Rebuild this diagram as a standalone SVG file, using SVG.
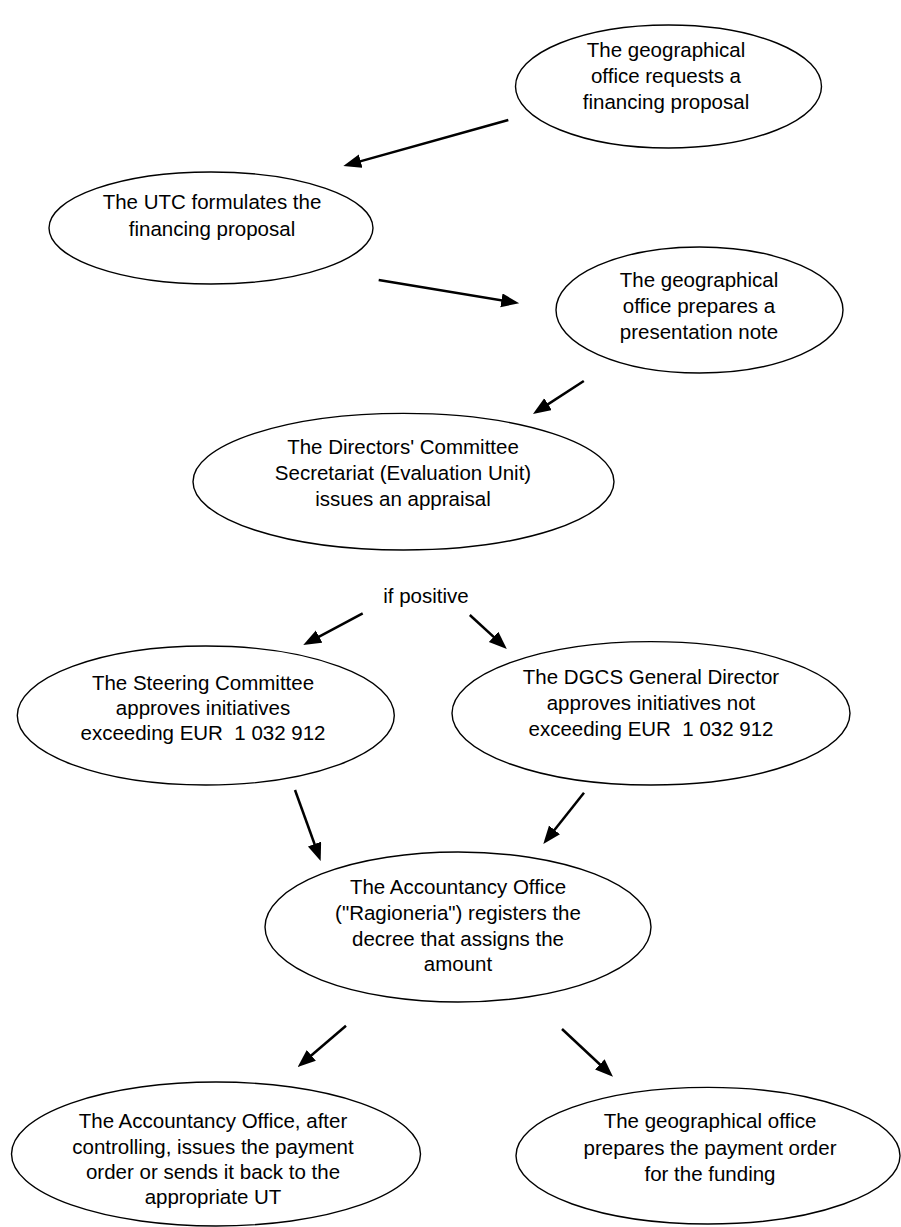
<svg xmlns="http://www.w3.org/2000/svg" width="901" height="1227" viewBox="0 0 901 1227">
<style>
  .node ellipse { fill: #ffffff; stroke: #000000; stroke-width: 1.4; }
  text { font-family: "Liberation Sans", Arial, sans-serif; font-size: 20.5px; fill: #000000; text-anchor: middle; white-space: pre; }
  .conn line { stroke: #000000; stroke-width: 2.5; fill: none; marker-end: url(#arrow); }
</style>
<defs>
  <marker id="arrow" markerUnits="userSpaceOnUse" markerWidth="20" markerHeight="15" refX="9" refY="7" orient="auto" viewBox="0 0 20 15">
    <path d="M0,0 L18,7 L0,14 z" fill="#000000"/>
  </marker>
</defs>
<rect width="901" height="1227" fill="#ffffff"/>

<g id="n1" class="node">
  <ellipse cx="668.5" cy="86.5" rx="153" ry="61.5"/>
  <text x="666" y="57">The geographical</text>
  <text x="666" y="83">office requests a</text>
  <text x="666" y="109">financing proposal</text>
</g>
<g id="n2" class="node">
  <ellipse cx="211" cy="228" rx="162" ry="56"/>
  <text x="212" y="209">The UTC formulates the</text>
  <text x="212" y="236">financing proposal</text>
</g>
<g id="n3" class="node">
  <ellipse cx="699.5" cy="310" rx="143.5" ry="63"/>
  <text x="699" y="287">The geographical</text>
  <text x="699" y="313">office prepares a</text>
  <text x="699" y="339">presentation note</text>
</g>
<g id="n4" class="node">
  <ellipse cx="403.5" cy="481.7" rx="210.5" ry="68.3"/>
  <text x="403" y="454">The Directors' Committee</text>
  <text x="403" y="480">Secretariat (Evaluation Unit)</text>
  <text x="403" y="506">issues an appraisal</text>
</g>
<g id="label-if-positive">
  <text x="426" y="603">if positive</text>
</g>
<g id="n5" class="node">
  <ellipse cx="205.8" cy="715.5" rx="188.5" ry="69.5"/>
  <text x="203" y="690">The Steering Committee</text>
  <text x="203" y="715">approves initiatives</text>
  <text x="203" y="740">exceeding EUR  1 032 912</text>
</g>
<g id="n6" class="node">
  <ellipse cx="651" cy="713.3" rx="199" ry="71.7"/>
  <text x="651" y="684">The DGCS General Director</text>
  <text x="651" y="710">approves initiatives not</text>
  <text x="651" y="736">exceeding EUR  1 032 912</text>
</g>
<g id="n7" class="node">
  <ellipse cx="458" cy="927" rx="193" ry="75"/>
  <text x="458" y="894">The Accountancy Office</text>
  <text x="458" y="919.5">("Ragioneria") registers the</text>
  <text x="458" y="945.5">decree that assigns the</text>
  <text x="458" y="971">amount</text>
</g>
<g id="n8" class="node">
  <ellipse cx="216" cy="1154" rx="204.5" ry="72"/>
  <text x="213" y="1128">The Accountancy Office, after</text>
  <text x="213" y="1153.5">controlling, issues the payment</text>
  <text x="213" y="1178.5">order or sends it back to the</text>
  <text x="213" y="1204">appropriate UT</text>
</g>
<g id="n9" class="node">
  <ellipse cx="708" cy="1155.7" rx="192" ry="68.3"/>
  <text x="710" y="1128">The geographical office</text>
  <text x="710" y="1155">prepares the payment order</text>
  <text x="710" y="1181">for the funding</text>
</g>

<g id="connectors" class="conn">
  <line x1="508.3" y1="120" x2="352.0" y2="163.6"/>
  <line x1="378.7" y1="280" x2="510.3" y2="301.8"/>
  <line x1="583.8" y1="381" x2="540.5" y2="409.1"/>
  <line x1="362.7" y1="613.3" x2="311.2" y2="640.8"/>
  <line x1="469.8" y1="615" x2="500.2" y2="642.9"/>
  <line x1="295" y1="790" x2="317.6" y2="852.5"/>
  <line x1="584" y1="792.7" x2="548.9" y2="837.0"/>
  <line x1="346" y1="1025.7" x2="304.5" y2="1061.2"/>
  <line x1="562" y1="1029" x2="606.4" y2="1070.5"/>
</g>
</svg>
